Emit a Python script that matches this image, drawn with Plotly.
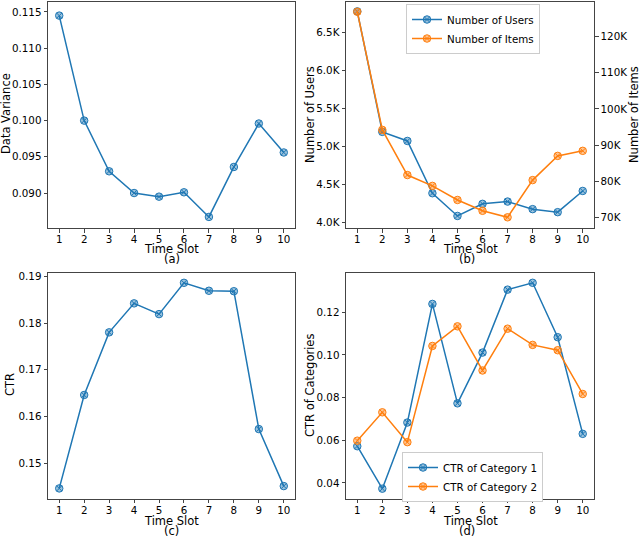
import plotly.graph_objects as go

# dados
slots = [1, 2, 3, 4, 5, 6, 7, 8, 9, 10]
variancia = [0.1145, 0.1000, 0.0930, 0.0900, 0.0895, 0.0901, 0.0867, 0.0936, 0.0996, 0.0956]
usuarios = [6780, 5190, 5070, 4380, 4080, 4240, 4270, 4170, 4130, 4410]
itens = [126900, 94200, 81700, 78700, 74800, 71800, 70000, 80300, 87000, 88400]
ctr = [0.1446, 0.1646, 0.1780, 0.1842, 0.1819, 0.1886, 0.1869, 0.1868, 0.1573, 0.1451]
ctr_cat1 = [0.0572, 0.0373, 0.0683, 0.1239, 0.0773, 0.1011, 0.1306, 0.1338, 0.1083, 0.0630]
ctr_cat2 = [0.0598, 0.0731, 0.0591, 0.1042, 0.1134, 0.0927, 0.1123, 0.1047, 0.1022, 0.0817]

ticks_usuarios = [4000, 4500, 5000, 5500, 6000, 6500]
labels_usuarios = ['4.0K', '4.5K', '5.0K', '5.5K', '6.0K', '6.5K']
ticks_itens = [70000, 80000, 90000, 100000, 110000, 120000]
labels_itens = ['70K', '80K', '90K', '100K', '110K', '120K']

AZUL = '#1f77b4'
LARANJA = '#ff7f0e'
AZUL_F = 'rgba(31,119,180,0.45)'
LARANJA_F = 'rgba(255,127,14,0.45)'
FONTE = 'DejaVu Sans'
W, H = 640, 538


def px(x):
    return x / W


def py(y):
    return 1 - y / H


def serie(x, y, cor, fundo, nome, xa, ya, legenda=None):
    return go.Scatter(
        x=x, y=y, name=nome, mode='lines+markers', xaxis=xa, yaxis=ya,
        showlegend=legenda is not None, legend=legenda or 'legend',
        line=dict(color=cor, width=1.5),
        marker=dict(symbol='circle-x', size=7.5, color=fundo,
                    line=dict(color=cor, width=1)),
    )


fig = go.Figure()
fig.add_trace(serie(slots, variancia, AZUL, AZUL_F, 'Data Variance', 'x', 'y'))
fig.add_trace(serie(slots, usuarios, AZUL, AZUL_F, 'Number of Users', 'x2', 'y2', 'legend'))
fig.add_trace(serie(slots, itens, LARANJA, LARANJA_F, 'Number of Items', 'x2', 'y3', 'legend'))
fig.add_trace(serie(slots, ctr, AZUL, AZUL_F, 'CTR', 'x3', 'y4'))
fig.add_trace(serie(slots, ctr_cat1, AZUL, AZUL_F, 'CTR of Category 1', 'x4', 'y5', 'legend2'))
fig.add_trace(serie(slots, ctr_cat2, LARANJA, LARANJA_F, 'CTR of Category 2', 'x4', 'y5', 'legend2'))

eixo = dict(showgrid=False, zeroline=False, showline=True, mirror=True,
            linecolor='#444', linewidth=1, ticks='outside', ticklen=3.5,
            tickcolor='#444', tickfont=dict(family=FONTE, size=10.3, color='black'),
            automargin=False)

dom_esq = [px(48), px(295)]
dom_dir = [px(346), px(594)]
dom_cima = [py(228), py(2)]
dom_baixo = [py(498.7), py(273)]
eixo_x = dict(eixo, tickvals=slots, range=[0.55, 10.45], ticklabelstandoff=-2)

estilo_legenda = dict(xanchor='left', yanchor='top', bordercolor='#ccc', borderwidth=1,
                      bgcolor='white', font=dict(family=FONTE, size=10.3))

fig.update_layout(
    width=W, height=H,
    margin=dict(l=0, r=0, t=0, b=0),
    plot_bgcolor='white', paper_bgcolor='white',
    font=dict(family=FONTE, size=11, color='black'),
    xaxis=dict(eixo_x, domain=dom_esq, anchor='y'),
    yaxis=dict(eixo, domain=dom_cima, anchor='x', range=[0.08517, 0.11638],
               tickvals=[0.090, 0.095, 0.100, 0.105, 0.110, 0.115], tickformat='.3f'),
    xaxis2=dict(eixo_x, domain=dom_dir, anchor='y2'),
    yaxis2=dict(eixo, domain=dom_cima, anchor='x2', range=[3921, 6904],
                tickvals=ticks_usuarios, ticktext=labels_usuarios),
    yaxis3=dict(eixo, overlaying='y2', side='right', anchor='x2', range=[67040, 129600],
                tickvals=ticks_itens, ticktext=labels_itens, mirror=False),
    xaxis3=dict(eixo_x, domain=dom_esq, anchor='y4'),
    yaxis4=dict(eixo, domain=dom_baixo, anchor='x3', range=[0.1424, 0.1907],
                tickvals=[0.15, 0.16, 0.17, 0.18, 0.19], tickformat='.2f'),
    xaxis4=dict(eixo_x, domain=dom_dir, anchor='y5'),
    yaxis5=dict(eixo, domain=dom_baixo, anchor='x4', range=[0.0326, 0.1384],
                tickvals=[0.04, 0.06, 0.08, 0.10, 0.12], tickformat='.2f'),
    legend=dict(estilo_legenda, x=px(406), y=py(4)),
    legend2=dict(estilo_legenda, x=px(402), y=py(452)),
)

# textos (titulos dos eixos e letras dos paineis)
textos = [
    ('Time Slot', 171.5, 249, 0), ('(a)', 171.5, 259, 0),
    ('Time Slot', 470, 249, 0), ('(b)', 467, 259, 0),
    ('Time Slot', 171.5, 521, 0), ('(c)', 171.5, 531, 0),
    ('Time Slot', 470, 521, 0), ('(d)', 467, 531, 0),
    ('Data Variance', 6, 114, -90), ('Number of Users', 310, 115, -90),
    ('Number of Items', 634, 115, -90), ('CTR', 10, 385, -90),
    ('CTR of Categories', 310, 386, -90),
]
for t, x, y, ang in textos:
    fig.add_annotation(text=t, x=px(x), y=py(y), xref='paper', yref='paper',
                       showarrow=False, textangle=ang, xanchor='center', yanchor='middle',
                       font=dict(family=FONTE, size=11.5, color='black'))

# tira a margem padrao do body para a figura ocupar a janela inteira
fig.write_html("out.html", config={'displayModeBar': False},
               post_script="document.body.style.margin='0px';")
